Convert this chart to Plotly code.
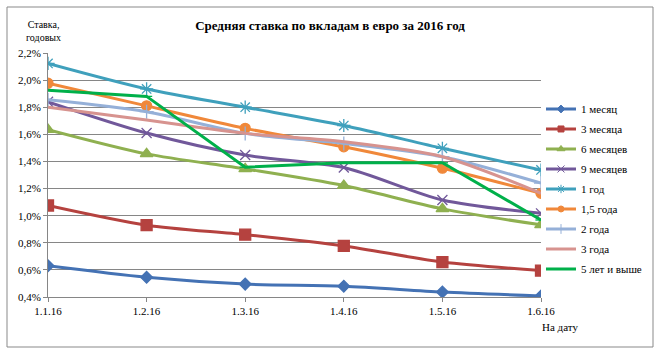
import plotly.graph_objects as go

dates = ["1.1.16", "1.2.16", "1.3.16", "1.4.16", "1.5.16", "1.6.16"]

m1 = [0.63, 0.545, 0.495, 0.48, 0.437, 0.408]
m3 = [1.075, 0.93, 0.86, 0.777, 0.658, 0.595]
m6 = [1.635, 1.456, 1.345, 1.222, 1.05, 0.932]
m9 = [1.84, 1.61, 1.447, 1.355, 1.115, 1.017]
y1 = [2.123, 1.935, 1.80, 1.665, 1.497, 1.337]
y15 = [1.977, 1.81, 1.644, 1.508, 1.35, 1.165]
y2 = [1.855, 1.767, 1.607, 1.533, 1.435, 1.24]
y3 = [1.80, 1.705, 1.607, 1.545, 1.435, 1.165]
y5 = [1.925, 1.88, 1.357, 1.39, 1.39, 0.968]

names = ["1 месяц", "3 месяца", "6 месяцев", "9 месяцев", "1 год",
         "1,5 года", "2 года", "3 года", "5 лет и выше"]
series = [m1, m3, m6, m9, y1, y15, y2, y3, y5]
colors = ["#4472B4", "#B5423F", "#8FB050", "#71589A", "#3FA0BC",
          "#F0883A", "#95B0D8", "#D7938F", "#00B04A"]
symbols = ["diamond", "square", "triangle-up", "x-thin-open", "asterisk-open",
           "circle", "cross-thin-open", None, "line-ew-open"]
sizes = [9, 11, 11, 10, 11, 10, 10, 0, 8]
leg_sizes = [6, 6, 7, 7, 7, 6, 7, 0, 6]
shapes = ["spline"] * 8 + ["linear"]

FONT = "Liberation Serif, Times New Roman, serif"

fig = go.Figure()
for n, s, c, sym, sz, lsz, sh in zip(names, series, colors, symbols, sizes, leg_sizes, shapes):
    if sym is None:
        mode = "lines"
        marker = None
        lmarker = None
    else:
        mode = "lines+markers"
        marker = dict(symbol=sym, size=sz, color=c, line=dict(color=c, width=1.3))
        lmarker = dict(symbol=sym, size=lsz, color=c, line=dict(color=c, width=1))
    fig.add_trace(go.Scatter(
        x=dates, y=s, name=n, mode=mode, marker=marker,
        line=dict(color=c, width=3, shape=sh, smoothing=0.8),
        showlegend=False,
    ))
    fig.add_trace(go.Scatter(
        x=[None], y=[None], name=n, mode=mode, marker=lmarker,
        line=dict(color=c, width=3), showlegend=True, legendgroup=n,
    ))

fig.update_layout(
    width=660, height=352,
    margin=dict(l=48, r=119, t=53, b=55),
    paper_bgcolor="white", plot_bgcolor="white",
    font=dict(family=FONT, size=11, color="black"),
    title=dict(text="<b>Средняя ставка по вкладам в евро за 2016 год</b>",
               x=0.5, xanchor="center", y=1 - 25 / 352, yanchor="middle",
               font=dict(family=FONT, size=13, color="black")),
    showlegend=True,
    legend=dict(x=1.0, xanchor="left", y=0.83, yanchor="top",
                font=dict(family=FONT, size=11, color="black"),
                tracegroupgap=1, itemwidth=30, bgcolor="rgba(0,0,0,0)"),
    xaxis=dict(type="category", range=[0, 5], showgrid=False,
               showline=True, linecolor="#868686", linewidth=1,
               ticks="outside", ticklen=4, tickcolor="#868686",
               tickfont=dict(family=FONT, size=11), zeroline=False),
    yaxis=dict(range=[0.4, 2.2],
               tickvals=[0.4, 0.6, 0.8, 1.0, 1.2, 1.4, 1.6, 1.8, 2.0, 2.2],
               ticktext=["0,4%", "0,6%", "0,8%", "1,0%", "1,2%", "1,4%",
                         "1,6%", "1,8%", "2,0%", "2,2%"],
               showgrid=True, gridcolor="#868686", gridwidth=1,
               showline=True, linecolor="#868686", linewidth=1,
               ticks="outside", ticklen=4, tickcolor="#868686",
               tickfont=dict(family=FONT, size=11), zeroline=False),
)

fig.add_shape(type="rect", xref="paper", yref="paper",
              x0=(7 - 48) / 493, x1=(653 - 48) / 493,
              y0=(297 - 347) / 244, y1=(297 - 7) / 244,
              line=dict(color="#898989", width=1), fillcolor="rgba(0,0,0,0)",
              layer="below")

fig.add_annotation(text="Ставка,<br>годовых", xref="paper", yref="paper",
                   x=(43 - 48) / 493, y=(297 - 31) / 244, xanchor="center",
                   yanchor="middle", showarrow=False,
                   font=dict(family=FONT, size=10, color="black"))
fig.add_annotation(text="На дату", xref="paper", yref="paper",
                   x=(560 - 48) / 493, y=(297 - 327) / 244, xanchor="center",
                   yanchor="middle", showarrow=False,
                   font=dict(family=FONT, size=11, color="black"))

fig.write_html("out.html")
